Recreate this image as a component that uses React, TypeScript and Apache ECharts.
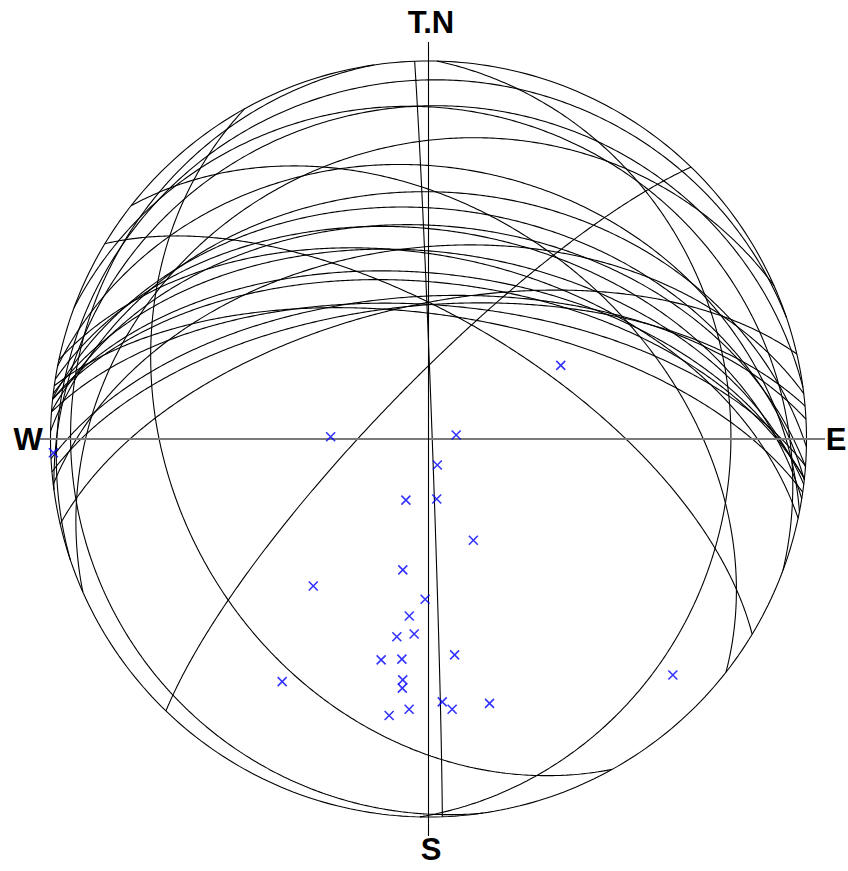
import React, { useEffect, useRef } from "react";
import * as echarts from "echarts";

// Planes (dip direction / dip, degrees) – each plotted as a great circle and its pole
const dipDirections = [240.9, 91.3, 261.7, 87.9, 341.3, 20.3, 352.2, 336.1, 11.1, 38.1, 1.2, 6.2, 4.2, 9.1, 12.1, 6.9, 353.1, 31.1, 6.1, 6.0, 314.0, 8.1, 4.1, 357.0, 355.0, 347.0];
const dips = [32.9, 21.1, 6.0, 89.2, 5.9, 14.0, 13.0, 23.9, 28.9, 40.9, 34.9, 38.9, 42.9, 44.0, 50.0, 49.0, 48.0, 64.0, 53.9, 55.9, 78.9, 63.0, 60.9, 59.0, 61.0, 61.0];
const directionLabels = { north: "T.N", south: "S", west: "W", east: "E" };

const RAD = Math.PI / 180;

// Equal-area (Schmidt) lower-hemisphere projection, primitive radius = 1
function project(trend: number, plunge: number): [number, number] {
  const r = Math.SQRT2 * Math.sin(((90 - plunge) * RAD) / 2);
  return [r * Math.sin(trend * RAD), r * Math.cos(trend * RAD)];
}

function greatCircle(dipDir: number, dip: number): [number, number][] {
  const sAz = (dipDir - 90) * RAD;
  const s = [Math.sin(sAz), Math.cos(sAz), 0];
  const d = [
    Math.cos(dip * RAD) * Math.sin(dipDir * RAD),
    Math.cos(dip * RAD) * Math.cos(dipDir * RAD),
    Math.sin(dip * RAD),
  ];
  const pts: [number, number][] = [];
  for (let i = 0; i <= 360; i++) {
    const b = (i / 2) * RAD;
    const v = s.map((c, k) => Math.cos(b) * c + Math.sin(b) * d[k]);
    const plunge = Math.asin(Math.max(-1, Math.min(1, v[2]))) / RAD;
    const trend = Math.atan2(v[0], v[1]) / RAD;
    pts.push(project(trend, plunge));
  }
  return pts;
}

function primitive(): [number, number][] {
  const pts: [number, number][] = [];
  for (let i = 0; i <= 360; i++) pts.push(project(i, 0));
  return pts;
}

export default function App() {
  const ref = useRef<HTMLDivElement>(null);

  useEffect(() => {
    if (!ref.current) return;
    const chart = echarts.init(ref.current, undefined, { renderer: "svg" });

    const cx = 428.5;
    const cy = 439;
    const R = 378;

    const circleSeries = dipDirections.map((dd, i) => ({
      type: "line",
      data: greatCircle(dd, dips[i]),
      symbol: "none",
      silent: true,
      clip: false,
      lineStyle: { color: "#000", width: 1.1 },
      z: 3,
    }));

    const poles = dipDirections.map((dd, i) => project((dd + 180) % 360, 90 - dips[i]));

    const font = 'bold 31px "Liberation Sans", Arial, sans-serif';
    const textStyle = (text: string) => ({
      text,
      font,
      fill: "#000",
      textAlign: "center",
      textVerticalAlign: "middle",
      align: "center",
      verticalAlign: "middle",
    });

    const option = {
      animation: false,
      grid: { left: cx - R, top: cy - R, width: 2 * R, height: 2 * R },
      xAxis: { type: "value", min: -1, max: 1, show: false },
      yAxis: { type: "value", min: -1, max: 1, show: false },
      series: [
        {
          type: "line",
          data: primitive(),
          symbol: "none",
          silent: true,
          clip: false,
          lineStyle: { color: "#000", width: 1.1 },
          z: 3,
        },
        ...circleSeries,
        {
          type: "scatter",
          data: poles,
          symbol: "path://M0,0L10,10M10,0L0,10",
          symbolSize: 9,
          itemStyle: { color: "rgba(0,0,0,0)", borderColor: "#0000ff", borderWidth: 1.6 },
          z: 10,
        },
      ],
      graphic: [
        {
          type: "line",
          shape: { x1: 40, y1: cy, x2: 825, y2: cy },
          style: { stroke: "#7a7a7a", lineWidth: 2 },
          z: 5,
        },
        {
          type: "line",
          shape: { x1: cx, y1: 42, x2: cx, y2: 836 },
          style: { stroke: "#000", lineWidth: 1.1 },
          z: 5,
        },
        { type: "text", x: 431, y: 22.5, style: textStyle(directionLabels.north) },
        { type: "text", x: 431, y: 849, style: textStyle(directionLabels.south) },
        { type: "text", x: 28, y: 439, style: textStyle(directionLabels.west) },
        { type: "text", x: 836, y: 439, style: textStyle(directionLabels.east) },
      ],
    };

    chart.setOption(option as any);
    return () => chart.dispose();
  }, []);

  return (
    <div
      ref={ref}
      style={{ position: "absolute", left: 0, top: 0, width: 848, height: 871, background: "#fff" }}
    />
  );
}
